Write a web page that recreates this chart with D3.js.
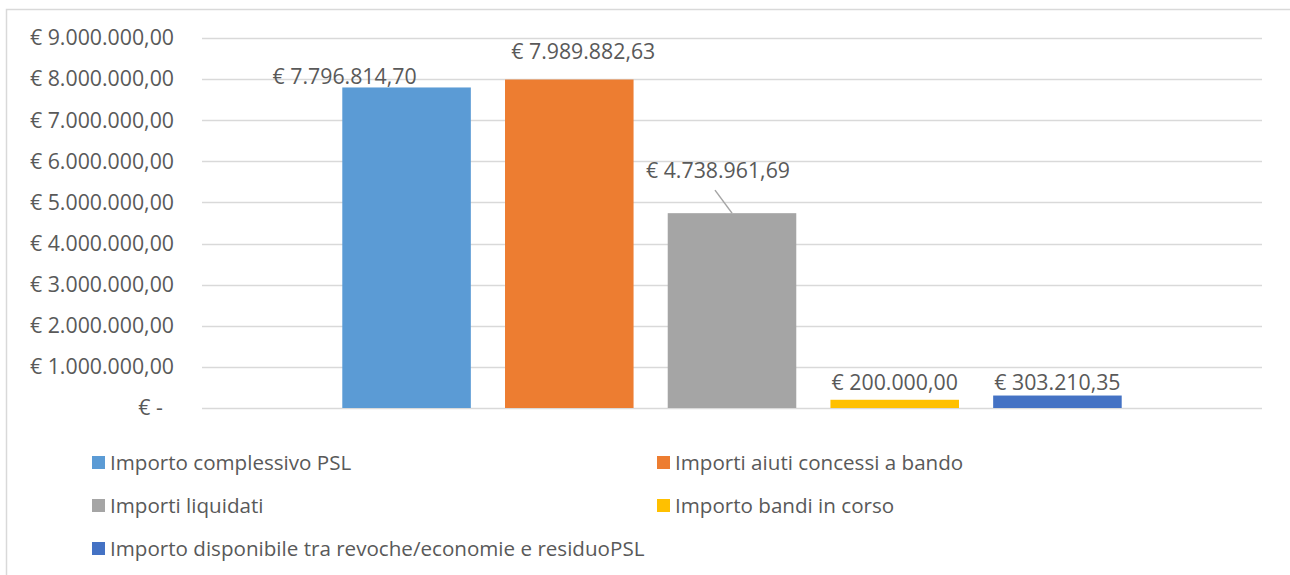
<!DOCTYPE html>
<html><head><meta charset="utf-8">
<script src="https://cdn.jsdelivr.net/npm/d3@7"></script>
<style>body{margin:0;background:#fff}svg{display:block}text{font-family:"Open Sans",sans-serif;fill:#595959;font-variant-ligatures:none}</style>
</head><body>
<script>
const seriesNames = ["Importo complessivo PSL","Importi aiuti concessi a bando","Importi liquidati","Importo bandi in corso","Importo disponibile tra revoche/economie e residuoPSL"];
const seriesValues = [7796814.70, 7989882.63, 4738961.69, 200000.00, 303210.35];
const valueLabels = ["€ 7.796.814,70","€ 7.989.882,63","€ 4.738.961,69","€ 200.000,00","€ 303.210,35"];
const colors = ["#5B9BD5","#ED7D31","#A5A5A5","#FFC000","#4472C4"];
const tickValues = [0,1000000,2000000,3000000,4000000,5000000,6000000,7000000,8000000,9000000];
const tickLabels = ["€ -\u00a0\u00a0","€ 1.000.000,00","€ 2.000.000,00","€ 3.000.000,00","€ 4.000.000,00","€ 5.000.000,00","€ 6.000.000,00","€ 7.000.000,00","€ 8.000.000,00","€ 9.000.000,00"];
const categories = [""];

const W=1290,H=575;
const FS="21.3px", FL="20.6px";
const svg=d3.select("body").append("svg").attr("width",W).attr("height",H);
svg.append("rect").attr("x",6.5).attr("y",9.5).attr("width",1300).attr("height",600).attr("fill","none").attr("stroke","#D9D9D9").attr("stroke-width",1.5);

const y=d3.scaleLinear().domain([0,9000000]).range([408,38]);
const x0=d3.scaleBand().domain(categories).range([202,1262]).paddingInner(0).paddingOuter(0.18);
const x1=d3.scaleBand().domain(seriesNames).range([0,x0.bandwidth()]).paddingInner(0.21).paddingOuter(0);

svg.append("g").selectAll("line").data(tickValues).join("line")
  .attr("x1",202).attr("x2",1262).attr("y1",d=>Math.round(y(d))+0.5).attr("y2",d=>Math.round(y(d))+0.5)
  .attr("stroke","#D9D9D9").attr("stroke-width",1.5);

const yAxis=d3.axisLeft(y).tickValues(tickValues).tickSize(0).tickPadding(0).tickFormat((d,i)=>tickLabels[i]);
const ag=svg.append("g").attr("transform","translate(174,0)").call(yAxis);
ag.select(".domain").remove();
ag.selectAll("text").style("font-size",FS).attr("fill","#595959").style("font-family","'Open Sans',sans-serif");

const gx=svg.append("g").attr("transform",`translate(${x0("")},0)`);
gx.selectAll("rect").data(seriesValues).join("rect")
  .attr("x",(d,i)=>x1(seriesNames[i])).attr("width",x1.bandwidth())
  .attr("y",d=>y(d)).attr("height",d=>y(0)-y(d)).attr("fill",(d,i)=>colors[i]);

const labelOffsets=[[-62,-3],[14,-21],[-14,-35],[0,-10],[0,-6]];
gx.selectAll("text.v").data(seriesValues).join("text").attr("class","v")
  .attr("x",(d,i)=>x1(seriesNames[i])+x1.bandwidth()/2+labelOffsets[i][0])
  .attr("y",(d,i)=>y(d)+labelOffsets[i][1])
  .attr("text-anchor","middle").style("font-size",FS)
  .text((d,i)=>valueLabels[i]);
{
  const i=2, cx=x1(seriesNames[i])+x1.bandwidth()/2;
  gx.append("line").attr("x1",cx-17).attr("y1",y(seriesValues[i])-23).attr("x2",cx).attr("y2",y(seriesValues[i]))
    .attr("stroke","#A5A5A5").attr("stroke-width",1.5);
}

const legPos=[[92,462],[657,462],[92,505],[657,505],[92,548]];
const lg=svg.append("g").selectAll("g").data(seriesNames).join("g")
  .attr("transform",(d,i)=>`translate(${legPos[i][0]},${legPos[i][1]})`);
lg.append("rect").attr("x",0).attr("y",-6).attr("width",13).attr("height",13).attr("fill",(d,i)=>colors[i]);
lg.append("text").attr("x",18).attr("y",7.5).style("font-size",FL).text(d=>d);
</script>
</body></html>
